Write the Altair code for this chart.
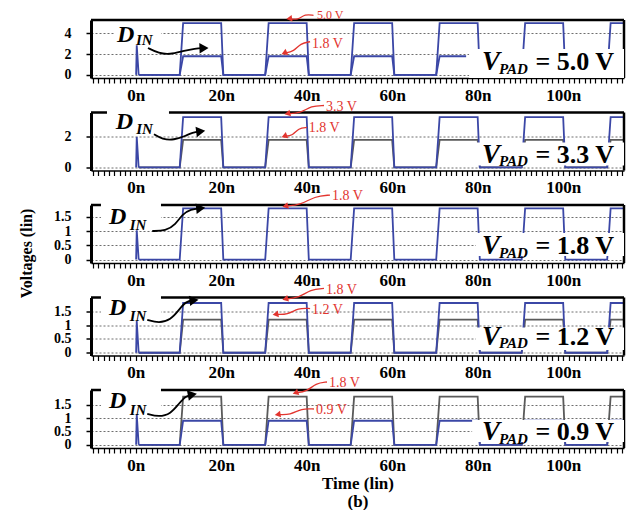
import math
import altair as alt
import pandas as pd

SERIF = "Liberation Serif"
BLUE = "#3b47a6"
GRAY = "#5a5a5a"
RED = "#e2352f"

# ---------------- data ----------------
X_MIN, X_MAX = -10.45, 114.23
PLOT_W, PLOT_H = 533, 58

vpad_text = ["5.0 V", "3.3 V", "1.8 V", "1.2 V", "0.9 V"]
vpad_levels = [5.0, 3.3, 1.8, 1.2, 0.9]
core_level = 1.8
y_domains = [[-0.3, 5.3], [-0.2, 3.6], [-0.12, 1.92], [-0.1, 2.0], [-0.12, 2.05]]
y_ticks = [[0, 2, 4], [0, 2], [0, 0.5, 1, 1.5], [0, 0.5, 1, 1.5], [0, 0.5, 1, 1.5]]
time_ticks = [-10 + 1.25 * k for k in range(100)]          # minor ticks, labels every 20n

rise_times = [10.3, 30.3, 50.3, 70.3, 90.3, 110.3]
fall_times = [20.0, 40.0, 60.0, 80.0, 100.0]
spike_peaks = [2.85, 2.0, 1.03, 1.15, 1.14]
core_end = [77.3, X_MAX, X_MAX, X_MAX, X_MAX]
vpad_color = ["blue", "blue", "blue", "gray", "blue"]
core_color = ["blue", "gray", None, "blue", "gray"]

# D_IN labels (left, baseline) in (ns, V)
din_D = [(-4.37, 3.18), (-4.68, 2.51), (-6.25, 1.24), (-6.25, 1.37), (-6.25, 1.38)]
din_IN = [(0.07, 2.89), (0.14, 2.18), (-1.4, 1.03), (-1.4, 1.16), (-1.4, 1.13)]
din_arrow_t = [[2.88, 5.45, 7.98, 11.07, 13.88, 17.15],
               [4.28, 6.22, 8.96, 11.70, 13.24, 16.37],
               [3.88, 7.02, 9.36, 10.9, 12.87, 16.37],
               [2.71, 5.45, 8.19, 10.13, 11.70, 14.81],
               [2.71, 5.45, 8.19, 10.13, 11.70, 14.41]]
din_arrow_v = [[2.60, 2.07, 1.97, 2.31, 2.55, 2.60],
               [2.18, 1.85, 1.79, 2.07, 2.29, 2.40],
               [1.005, 1.005, 1.24, 1.59, 1.77, 1.825],
               [1.19, 1.07, 1.19, 1.55, 1.86, 1.92],
               [1.16, 1.04, 1.16, 1.54, 1.83, 1.91]]
din_box = [(-4.84, 5.92, 5.06, 2.95), (-6.71, 7.79, 3.80, 2.355),
           (-8.12, 5.92, 2.026, 1.146), (-8.12, 5.92, 2.109, 1.21),
           (-8.12, 5.92, 2.162, 1.20)]

# V_PAD label: V left, PAD left, value right (ns); baselines (V)
vpad_V_t, vpad_PAD_t, vpad_val_t = 81.0, 85.0, 111.9
vpad_base = [0.44, 0.32, 0.19, 0.29, 0.17]
vpad_sub_base = [0.115, 0.11, 0.07, 0.17, 0.045]
vpad_box = [(78.0, X_MAX, 2.5, -0.3), (79.6, X_MAX, 1.63, 0.13), (79.6, X_MAX, 0.935, 0.13),
            (79.6, X_MAX, 0.914, 0.10), (78.7, X_MAX, 0.927, 0.104)]

# red level annotations: (text, left t, baseline v, start t, start v, tip t, tip v, font size)
red_notes = [
    [("5.0 V", 42.4, 5.40, 41.6, 5.75, 35.1, 5.38, 12), ("1.8 V", 41.24, 2.60, 40.8, 3.2, 34.0, 1.97, 14)],
    [("3.3 V", 44.5, 3.73, 44.05, 4.06, 34.7, 3.47, 14), ("1.8 V", 40.5, 2.29, 40.05, 2.62, 34.0, 1.96, 14)],
    [("1.8 V", 45.9, 2.10, 45.45, 2.27, 34.2, 1.85, 14)],
    [("1.8 V", 44.5, 2.14, 44.05, 2.33, 34.2, 1.91, 14), ("1.2 V", 41.24, 1.42, 40.8, 1.60, 31.9, 1.37, 14)],
    [("1.8 V", 45.2, 2.16, 44.75, 2.35, 36.6, 1.90, 14), ("0.9 V", 42.2, 1.15, 41.7, 1.34, 32.4, 1.115, 14)],
]

RISE, FALL = 0.8, 0.5


def scales(i):
    ymin, ymax = y_domains[i]
    return PLOT_W / (X_MAX - X_MIN), PLOT_H / (ymax - ymin)


def square_wave(level, t_end):
    pts = [(0.7, 0.0)]
    for k, r in enumerate(rise_times):
        if r >= t_end:
            break
        pts.append((r, 0.0))
        pts.append((r + RISE, level))
        if k < len(fall_times) and fall_times[k] < t_end:
            f = fall_times[k]
            pts.append((f, level))
            pts.append((f + FALL, 0.0))
        else:
            pts.append((t_end, level))
            break
    return pts


def head(i, prev, tip, back_px):
    sx, sy = scales(i)
    dx = (tip[0] - prev[0]) * sx
    dy = -(tip[1] - prev[1]) * sy
    L = math.hypot(dx, dy)
    ux, uy = dx / L, dy / L
    ang = math.degrees(math.atan2(ux, -uy)) % 360
    return (tip[0] - ux * back_px / sx, tip[1] + uy * back_px / sy, ang)


def wave(i, S, E, amp=2.5):
    sx, sy = scales(i)
    Sx, Sy = S[0] * sx, -S[1] * sy
    Ex, Ey = E[0] * sx, -E[1] * sy
    dx, dy = Ex - Sx, Ey - Sy
    L = math.hypot(dx, dy)
    nx, ny = -dy / L, dx / L
    pp = [(Sx, Sy),
          (Sx + 0.33 * dx + nx * amp, Sy + 0.33 * dy + ny * amp),
          (Sx + 0.66 * dx - nx * amp, Sy + 0.66 * dy - ny * amp),
          (Ex, Ey)]
    return [(x / sx, -y / sy) for x, y in pp]


def make_panel(i):
    ymin, ymax = y_domains[i]
    last = i == 4
    x_axis = alt.Axis(
        values=time_ticks,
        labelExpr="datum.value % 20 == 0 ? datum.value + 'n' : ''",
        grid=False, domainColor="black", domainWidth=1.5,
        tickColor="black", tickWidth=1.2, tickSize=5,
        labelFont=SERIF, labelFontSize=17, labelFontWeight="bold", labelColor="black",
        labelPadding=4, labelOverlap=False, labelFlush=False,
        title=["Time (lin)", "(b)"] if last else None,
        titleFont=SERIF, titleFontSize=17, titleFontWeight="bold", titleColor="black",
        titlePadding=2, titleLineHeight=18,
    )
    y_axis = alt.Axis(
        values=y_ticks[i], format="~g",
        grid=True, gridColor="#6e6e6e", gridDash=[2, 2], gridWidth=1,
        domainColor="black", domainWidth=3,
        tickColor="black", tickWidth=1.5, tickSize=5,
        labelFont=SERIF, labelFontSize=14, labelFontWeight="bold", labelColor="black",
        labelPadding=15, labelOverlap=False,
        title="Voltages (lin)" if i == 2 else None,
        titleFont=SERIF, titleFontSize=16, titleFontWeight="bold", titleColor="black",
        titleX=-57, titleY=48,
    )
    xe = alt.X("t:Q", scale=alt.Scale(domain=[X_MIN, X_MAX], nice=False, zero=False), axis=x_axis)
    ye = alt.Y("v:Q", scale=alt.Scale(domain=[ymin, ymax], nice=False, zero=False), axis=y_axis)

    # traces
    rows = []
    series = [(vpad_levels[i], X_MAX, vpad_color[i])]
    if core_color[i] is not None:
        series.append((core_level, core_end[i], core_color[i]))
    for s, (lvl, tend, col) in enumerate(series):
        for k, (t, v) in enumerate(square_wave(lvl, tend)):
            rows.append(dict(t=t, v=v, s=s, k=k, c=col))
    spike = [(0.1, 0.0), (0.25, spike_peaks[i]), (0.7, 0.0)]
    for k, (t, v) in enumerate(spike):
        rows.append(dict(t=t, v=v, s=9, k=k, c="blue"))
    tr = pd.DataFrame(rows)

    layers = []
    for col, hexc in (("gray", GRAY), ("blue", BLUE)):
        d = tr[tr.c == col]
        if len(d):
            layers.append(alt.Chart(d).mark_line(color=hexc, strokeWidth=1.8).encode(
                x=xe, y=ye, detail="s:N", order="k:Q"))

    # frame top / right
    frame = pd.DataFrame([dict(t=X_MIN, t2=X_MAX, v=ymax, v2=ymax),
                          dict(t=X_MAX, t2=X_MAX, v=ymin, v2=ymax)])
    layers.append(alt.Chart(frame).mark_rule(color="black", strokeWidth=2.5).encode(
        x=xe, x2=alt.X2("t2:Q"), y=ye, y2=alt.Y2("v2:Q")))

    # white label backgrounds
    b1, b2 = din_box[i], vpad_box[i]
    boxes = pd.DataFrame([dict(t=b1[0], t2=b1[1], v=b1[2], v2=b1[3]),
                          dict(t=b2[0], t2=b2[1], v=b2[2], v2=b2[3])])
    layers.append(alt.Chart(boxes).mark_rect(color="white", opacity=1).encode(
        x=xe, x2=alt.X2("t2:Q"), y=ye, y2=alt.Y2("v2:Q")))

    # D_IN arrow
    pts = list(zip(din_arrow_t[i], din_arrow_v[i]))
    hx, hy, ha = head(i, pts[-2], pts[-1], 5)
    line_pts = pts[:-1] + [(hx, hy)]
    arr = pd.DataFrame([dict(t=t, v=v, k=k) for k, (t, v) in enumerate(line_pts)])
    layers.append(alt.Chart(arr).mark_line(color="black", strokeWidth=1.8, interpolate="basis").encode(
        x=xe, y=ye, order="k:Q"))
    heads = [dict(t=hx, v=hy, a=ha, c="k")]

    # red annotations
    red_rows, red_lines = [], []
    for n, (txt, tt, tv, st, sv, pt, pv, fs) in enumerate(red_notes[i]):
        cx, cy, ca = head(i, (st, sv), (pt, pv), 3.5)
        heads.append(dict(t=cx, v=cy, a=ca, c="r"))
        for k, (t, v) in enumerate(wave(i, (st, sv), (cx, cy))):
            red_lines.append(dict(t=t, v=v, k=k, s=n))
        red_rows.append(dict(t=tt, v=tv, label=txt, fs=fs))
    layers.append(alt.Chart(pd.DataFrame(red_lines)).mark_line(
        color=RED, strokeWidth=1.3, interpolate="basis").encode(x=xe, y=ye, detail="s:N", order="k:Q"))
    hd = pd.DataFrame(heads)
    layers.append(alt.Chart(hd[hd.c == "k"]).mark_point(
        shape="triangle-up", filled=True, size=110, color="black", opacity=1, strokeWidth=0).encode(
        x=xe, y=ye, angle=alt.Angle("a:Q", scale=None)))
    layers.append(alt.Chart(hd[hd.c == "r"]).mark_point(
        shape="triangle-up", filled=True, size=45, color=RED, opacity=1, strokeWidth=0).encode(
        x=xe, y=ye, angle=alt.Angle("a:Q", scale=None)))
    layers.append(alt.Chart(pd.DataFrame(red_rows)).mark_text(
        align="left", baseline="alphabetic", font=SERIF, color=RED).encode(
        x=xe, y=ye, text="label:N", size=alt.Size("fs:Q", scale=None)))

    # texts
    def txt_layer(df, **kw):
        return alt.Chart(df).mark_text(font=SERIF, color="black", fontWeight="bold",
                                       baseline="alphabetic", **kw).encode(x=xe, y=ye, text="label:N")

    layers.append(txt_layer(pd.DataFrame([dict(t=din_D[i][0], v=din_D[i][1], label="D")]),
                            align="left", fontSize=24, fontStyle="italic"))
    layers.append(txt_layer(pd.DataFrame([dict(t=din_IN[i][0], v=din_IN[i][1], label="IN")]),
                            align="left", fontSize=15, fontStyle="italic"))
    layers.append(txt_layer(pd.DataFrame([dict(t=vpad_V_t, v=vpad_base[i], label="V")]),
                            align="left", fontSize=27, fontStyle="italic"))
    layers.append(txt_layer(pd.DataFrame([dict(t=vpad_PAD_t, v=vpad_sub_base[i], label="PAD")]),
                            align="left", fontSize=15, fontStyle="italic"))
    layers.append(txt_layer(pd.DataFrame([dict(t=vpad_val_t, v=vpad_base[i], label="= " + vpad_text[i])]),
                            align="right", fontSize=26))

    return alt.layer(*layers).properties(width=PLOT_W, height=PLOT_H)


panels = [make_panel(i) for i in range(5)]
chart = alt.vconcat(*panels, spacing=34.5, bounds="flush").properties(
    padding={"left": 10, "top": 0, "right": 0, "bottom": 1}
).configure_view(strokeWidth=0)

chart.save("out.html", embed_options={"renderer": "svg", "actions": False})
